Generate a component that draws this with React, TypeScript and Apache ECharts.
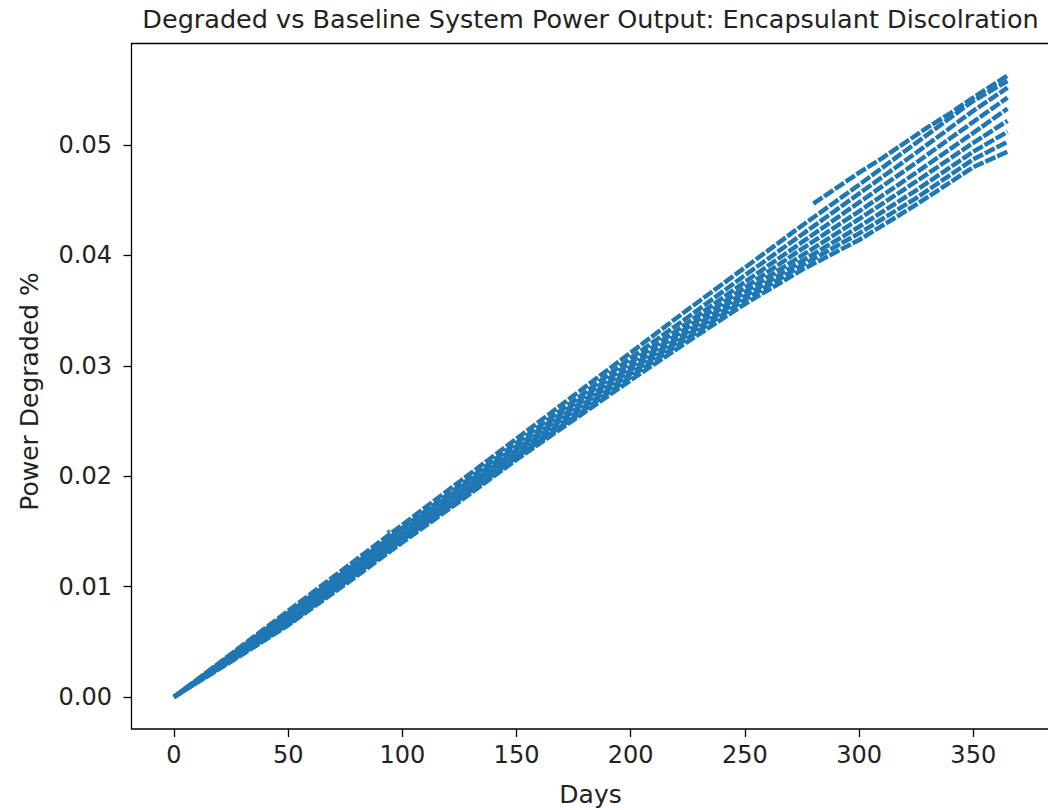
import React, { useEffect, useRef } from "react";
import * as echarts from "echarts";

const titleText = "Degraded vs Baseline System Power Output: Encapsulant Discolration";
const xName = "Days";
const yName = "Power Degraded %";

const xTicks = [0, 50, 100, 150, 200, 250, 300, 350];
const yTicks = [0, 0.01, 0.02, 0.03, 0.04, 0.05];

const days = [0, 25, 50, 75, 100, 125, 150, 175, 200, 225, 250, 275, 300, 325, 350, 365];

const strand1 = [0, 0.0039, 0.0078, 0.0117, 0.0156, 0.0195, 0.0234, 0.0273, 0.0312, 0.0351, 0.0389, 0.0427, 0.0464, 0.0502, 0.0540, 0.0558];
const strand2 = [0, 0.0038, 0.0076, 0.0114, 0.0153, 0.0191, 0.0230, 0.0268, 0.0307, 0.0344, 0.0382, 0.0419, 0.0456, 0.0493, 0.0531, 0.0552];
const strand3 = [0, 0.0037, 0.0074, 0.0112, 0.0151, 0.0189, 0.0227, 0.0265, 0.0303, 0.0339, 0.0376, 0.0412, 0.0448, 0.0484, 0.0521, 0.0543];
const strand4 = [0, 0.0036, 0.0072, 0.0110, 0.0148, 0.0186, 0.0224, 0.0262, 0.0299, 0.0335, 0.0371, 0.0406, 0.0440, 0.0475, 0.0511, 0.0533];
const strand5 = [0, 0.0035, 0.0070, 0.0108, 0.0146, 0.0184, 0.0222, 0.0259, 0.0296, 0.0331, 0.0367, 0.0400, 0.0433, 0.0467, 0.0502, 0.0522];
const strand6 = [0, 0.0034, 0.0068, 0.0106, 0.0144, 0.0182, 0.0219, 0.0256, 0.0293, 0.0328, 0.0363, 0.0395, 0.0426, 0.0459, 0.0494, 0.0512];
const strand7 = [0, 0.0033, 0.0066, 0.0104, 0.0142, 0.0179, 0.0217, 0.0253, 0.0290, 0.0325, 0.0360, 0.0391, 0.0420, 0.0452, 0.0487, 0.0503];
const strand8 = [0, 0.0032, 0.0065, 0.0102, 0.0140, 0.0177, 0.0215, 0.0251, 0.0287, 0.0322, 0.0356, 0.0387, 0.0414, 0.0446, 0.0480, 0.0494];

const upperDays = [280, 290, 300, 310, 320, 330, 340, 350, 365];
const upperStrand = [0.0447, 0.0461, 0.0475, 0.0488, 0.0502, 0.0516, 0.0529, 0.0543, 0.0563];

const outlierDays = [94];
const outlierValues = [0.0150];

const strands = [strand1, strand2, strand3, strand4, strand5, strand6, strand7, strand8];

const BLUE = "#1f77b4";
const FONT = "DejaVu Sans";

export default function App() {
  const ref = useRef<HTMLDivElement>(null);

  useEffect(() => {
    if (!ref.current) return;
    const chart = echarts.init(ref.current, null, { renderer: "svg" });

    const lineSeries = strands.map((s, k) => ({
      type: "line",
      data: days.map((d, i) => [d, s[i]]),
      showSymbol: false,
      symbol: "none",
      lineStyle: { color: BLUE, width: 4.5, type: [11, 2], dashOffset: k * 4 },
      itemStyle: { color: BLUE },
      z: 2,
    }));

    chart.setOption({
      animation: false,
      backgroundColor: "#ffffff",
      grid: {
        left: 131.5,
        top: 43.5,
        right: 2.8,
        bottom: 81,
        show: true,
        borderColor: "#000",
        borderWidth: 1.3,
        backgroundColor: "transparent",
      },
      xAxis: {
        type: "value",
        min: -18.6,
        max: 383.25,
        axisLine: { show: false, onZero: false },
        splitLine: { show: false },
        axisTick: {
          show: true,
          customValues: xTicks,
          length: 8,
          lineStyle: { color: "#000", width: 1.3 },
        },
        axisLabel: {
          customValues: xTicks,
          margin: 14,
          fontSize: 24,
          fontFamily: FONT,
          color: "#222",
          formatter: (v: number) => String(v),
        },
      },
      yAxis: {
        type: "value",
        min: -0.0029,
        max: 0.0592,
        axisLine: { show: false, onZero: false },
        splitLine: { show: false },
        axisTick: {
          show: true,
          customValues: yTicks,
          length: 8,
          lineStyle: { color: "#000", width: 1.3 },
        },
        axisLabel: {
          customValues: yTicks,
          margin: 19.5,
          fontSize: 24,
          fontFamily: FONT,
          color: "#222",
          formatter: (v: number) => v.toFixed(2),
        },
      },
      graphic: [
        {
          type: "text",
          x: 590.5,
          y: 18.5,
          style: {
            text: titleText,
            fontSize: 25.5,
            fontFamily: FONT,
            fill: "#222",
            align: "center",
            verticalAlign: "middle",
          },
        },
        {
          type: "text",
          x: 590.5,
          y: 794,
          style: {
            text: xName,
            fontSize: 25,
            fontFamily: FONT,
            fill: "#222",
            align: "center",
            verticalAlign: "middle",
          },
        },
        {
          type: "text",
          x: 29.9,
          y: 391.5,
          rotation: Math.PI / 2,
          style: {
            text: yName,
            fontSize: 25,
            fontFamily: FONT,
            fill: "#222",
            align: "center",
            verticalAlign: "middle",
          },
        },
      ],
      series: [
        ...lineSeries,
        {
          type: "line",
          data: upperDays.map((d, i) => [d, upperStrand[i]]),
          showSymbol: false,
          symbol: "none",
          lineStyle: { color: BLUE, width: 4.5, type: [11, 2] },
          z: 2,
        },
        {
          type: "scatter",
          data: outlierDays.map((d, i) => [d, outlierValues[i]]),
          symbolSize: 4,
          itemStyle: { color: BLUE },
          z: 2,
        },
      ],
    });

    return () => chart.dispose();
  }, []);

  return (
    <div style={{ position: "fixed", left: 0, top: 0, width: 1048, height: 810, overflow: "hidden", background: "#fff" }}>
      <div ref={ref} style={{ width: 1052, height: 810 }} />
    </div>
  );
}
